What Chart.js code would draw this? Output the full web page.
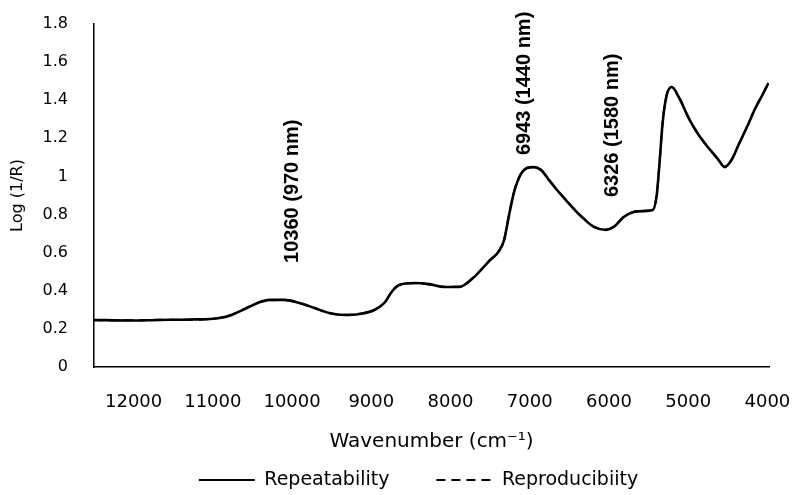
<!DOCTYPE html>
<html>
<head>
<meta charset="utf-8">
<script src="https://cdn.jsdelivr.net/npm/chart.js@4/dist/chart.umd.min.js"></script>
<style>
  html, body { margin: 0; padding: 0; background: #fff; }
  #wrap { width: 794px; height: 495px; }
</style>
</head>
<body>
<div id="wrap"><canvas id="nirChart" width="794" height="495"></canvas></div>
<script>
// wavenumber (cm-1)
const wavenumbers = [
  12500, 12047, 11669, 11291, 10913, 10762, 10598, 10435, 10283, 10095,
  9906, 9717, 9528, 9339, 9150, 8961, 8835, 8734, 8646, 8457,
  8268, 8080, 7891, 7702, 7513, 7387, 7324, 7261, 7198, 7110,
  7034, 6946, 6858, 6757, 6656, 6543, 6442, 6342, 6190, 6039,
  5939, 5813, 5687, 5561, 5448, 5397, 5359, 5322, 5271, 5208,
  5120, 4994, 4868, 4742, 4616, 4541, 4453, 4365, 4264, 4151,
  4050, 3987
];

const repeatability = [
  0.247, 0.244, 0.247, 0.249, 0.257, 0.273, 0.304, 0.336, 0.352, 0.352,
  0.336, 0.310, 0.283, 0.273, 0.278, 0.299, 0.336, 0.399, 0.430, 0.441,
  0.435, 0.420, 0.420, 0.472, 0.556, 0.609, 0.666, 0.797, 0.918, 1.013,
  1.044, 1.049, 1.034, 0.981, 0.929, 0.876, 0.829, 0.787, 0.735, 0.719,
  0.735, 0.787, 0.813, 0.818, 0.824, 0.902, 1.086, 1.285, 1.427, 1.469,
  1.417, 1.306, 1.217, 1.149, 1.086, 1.049, 1.086, 1.165, 1.254, 1.359,
  1.438, 1.490
];

const reproducibility = [
  0.245, 0.245, 0.248, 0.248, 0.258, 0.275, 0.306, 0.338, 0.350, 0.351,
  0.334, 0.309, 0.282, 0.274, 0.279, 0.301, 0.338, 0.401, 0.432, 0.440,
  0.433, 0.421, 0.422, 0.474, 0.558, 0.611, 0.668, 0.799, 0.920, 1.015,
  1.046, 1.050, 1.036, 0.983, 0.931, 0.878, 0.831, 0.789, 0.737, 0.721,
  0.737, 0.789, 0.815, 0.820, 0.826, 0.904, 1.088, 1.287, 1.429, 1.471,
  1.419, 1.308, 1.219, 1.151, 1.088, 1.051, 1.088, 1.167, 1.256, 1.361,
  1.440, 1.492
];

const xTickValues = [12000, 11000, 10000, 9000, 8000, 7000, 6000, 5000, 4000];
const yTickValues = [0, 0.2, 0.4, 0.6, 0.8, 1, 1.2, 1.4, 1.6, 1.8];

// band labels: text, plus wavenumber and log value where the text starts
const bandLabels = ['10360 (970 nm)', '6943 (1440 nm)', '6326 (1580 nm)'];
const bandX = [9994, 7066, 5957];
const bandY = [0.546, 1.112, 0.892];

const toPoints = vals => wavenumbers.map((w, i) => ({ x: w, y: vals[i] }));

const bandLabelPlugin = {
  id: 'bandLabels',
  afterDatasetsDraw(chart) {
    const { ctx, scales: { x, y } } = chart;
    ctx.save();
    ctx.fillStyle = '#000';
    ctx.font = 'bold 20px "Liberation Sans", Arial, sans-serif';
    ctx.textAlign = 'left';
    ctx.textBaseline = 'middle';
    bandLabels.forEach((txt, i) => {
      ctx.save();
      ctx.translate(x.getPixelForValue(bandX[i]), y.getPixelForValue(bandY[i]));
      ctx.rotate(-Math.PI / 2);
      ctx.fillText(txt, 0, 0);
      ctx.restore();
    });
    ctx.restore();
  }
};

// the legend sits a bit right of the plot centre in the original
const legendShift = {
  id: 'legendShift',
  afterLayout(chart) {
    chart.legend.left += 34;
    chart.legend.right += 34;
  }
};

// tick padding is only meant to push labels away from the axis,
// not to shrink the plot area
const noEdgePadding = s => {
  s.paddingLeft = 0;
  s.paddingRight = 0;
  s.paddingTop = 0;
  s.paddingBottom = 0;
};

const font = '"DejaVu Sans", Verdana, sans-serif';

new Chart(document.getElementById('nirChart'), {
  type: 'line',
  data: {
    datasets: [{
      label: 'Repeatability',
      data: toPoints(repeatability),
      borderColor: '#000',
      backgroundColor: '#000',
      borderWidth: 2.6,
      pointRadius: 0,
      cubicInterpolationMode: 'monotone'
    }, {
      label: 'Reproducibiity',
      data: toPoints(reproducibility),
      borderColor: '#000',
      backgroundColor: '#000',
      borderWidth: 2,
      borderDash: [9, 6],
      pointRadius: 0,
      cubicInterpolationMode: 'monotone'
    }]
  },
  options: {
    responsive: false,
    animation: false,
    layout: { padding: { top: 24, right: 25, left: 0, bottom: -4.5 } },
    plugins: {
      tooltip: { enabled: false },
      legend: {
        position: 'bottom',
        labels: {
          usePointStyle: true,
          pointStyle: 'line',
          pointStyleWidth: 56,
          color: '#000',
          padding: 47,
          font: { family: font, size: 19 },
          generateLabels(chart) {
            const items = Chart.defaults.plugins.legend.labels.generateLabels(chart);
            return items.map(it => {
              const ds = chart.data.datasets[it.datasetIndex];
              return Object.assign(it, {
                lineDash: ds.borderDash || [],
                lineWidth: 2,
                strokeStyle: '#000',
                fillStyle: '#000',
                pointStyle: 'line'
              });
            });
          }
        }
      }
    },
    scales: {
      x: {
        type: 'linear',
        reverse: true,
        min: 3980,
        max: 12500,
        afterBuildTicks: s => { s.ticks = xTickValues.map(v => ({ value: v })); },
        afterFit: s => { s.height = 56.5; noEdgePadding(s); },
        grid: { display: false, drawTicks: false },
        border: { display: true, color: '#000', width: 1.5 },
        ticks: {
          color: '#000',
          padding: 25,
          maxRotation: 0,
          font: { family: font, size: 18 },
          callback: v => String(v)
        },
        title: {
          display: true,
          text: 'Wavenumber (cm⁻¹)',
          color: '#000',
          font: { family: font, size: 20 },
          padding: { top: 16, bottom: -30.5 }
        }
      },
      y: {
        min: 0,
        max: 1.8,
        afterBuildTicks: s => { s.ticks = yTickValues.map(v => ({ value: v })); },
        afterFit: s => { s.width = 94; noEdgePadding(s); },
        grid: { display: false, drawTicks: false },
        border: { display: true, color: '#000', width: 1.5 },
        ticks: {
          color: '#000',
          padding: 26,
          font: { family: font, size: 16 },
          callback: v => String(Math.round(v * 10) / 10)
        },
        title: {
          display: true,
          text: 'Log (1/R)',
          color: '#000',
          font: { family: font, size: 16 },
          padding: { top: 8, bottom: 4 }
        }
      }
    }
  },
  plugins: [bandLabelPlugin, legendShift]
});
</script>
</body>
</html>
